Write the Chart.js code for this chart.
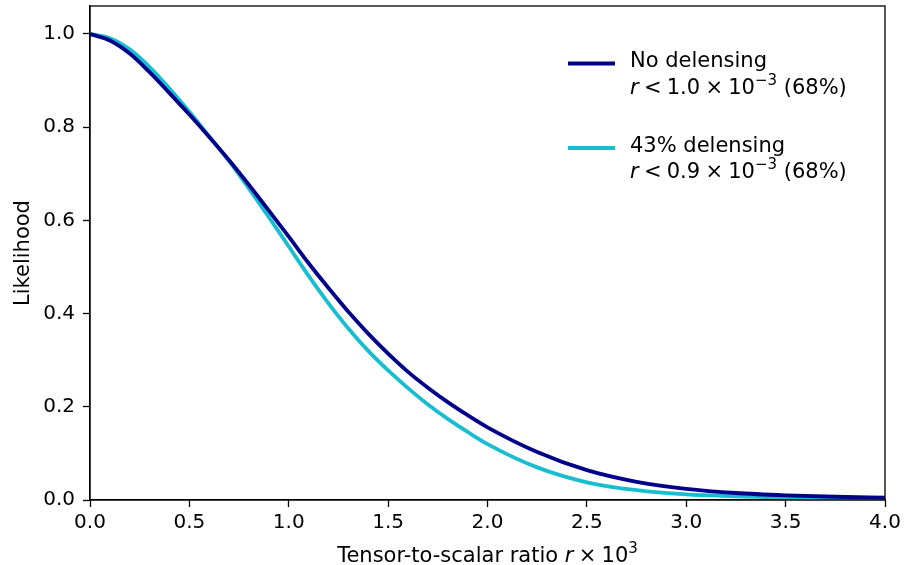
<!DOCTYPE html>
<html>
<head>
<meta charset="utf-8">
<script src="https://cdn.jsdelivr.net/npm/chart.js@4/dist/chart.umd.min.js"></script>
<style>
  html, body { margin: 0; padding: 0; background: #fff; }
  canvas { display: block; }
</style>
</head>
<body>
<canvas id="myChart" width="904" height="565"></canvas>
<script>
// tensor-to-scalar ratio r x 10^3
const rValues = [0, 0.1, 0.2, 0.3, 0.4, 0.5, 0.6, 0.7, 0.8, 0.9, 1.0, 1.1, 1.2, 1.3, 1.4, 1.5, 1.6, 1.7, 1.8, 1.9, 2.0, 2.25, 2.5, 2.75, 3.0, 3.25, 3.5, 3.75, 4.0]
const noDelensing = [1.000, 0.986, 0.958, 0.918, 0.873, 0.827, 0.779, 0.729, 0.676, 0.621, 0.565, 0.508, 0.455, 0.404, 0.357, 0.314, 0.275, 0.241, 0.210, 0.182, 0.156, 0.103, 0.064, 0.039, 0.024, 0.015, 0.010, 0.007, 0.005]
const delensing43 = [1.000, 0.991, 0.967, 0.929, 0.883, 0.833, 0.780, 0.727, 0.668, 0.607, 0.544, 0.481, 0.422, 0.368, 0.320, 0.278, 0.240, 0.205, 0.174, 0.146, 0.120, 0.070, 0.038, 0.021, 0.012, 0.008, 0.005, 0.004, 0.003]
const seriesNames = ['No delensing', '43% delensing']
const limits = ['1.0', '0.9']
const xTicks = [0, 0.5, 1.0, 1.5, 2.0, 2.5, 3.0, 3.5, 4.0]
const yTicks = [0, 0.2, 0.4, 0.6, 0.8, 1.0]

const FONT = "'DejaVu Sans', sans-serif"
const colors = ['#00008b', '#17becf']

function toPoints(ys) {
    return rValues.map((r, i) => ({x: r, y: ys[i]}))
}

// box around the plot + axis titles + legend, matplotlib style
const extras = {
    id: 'extras',
    afterDatasetsDraw(chart) {
        const ctx = chart.ctx
        const a = chart.chartArea
        ctx.save()
        ctx.strokeStyle = '#000'
        ctx.lineWidth = 1.3
        ctx.strokeRect(a.left, a.top, a.right - a.left, a.bottom - a.top)

        ctx.fillStyle = '#000'
        ctx.textBaseline = 'alphabetic'

        // pieces: [text, italic, superscript]
        function drawParts(parts, x, y, align) {
            const widths = parts.map(p => {
                ctx.font = (p[1] ? 'italic ' : '') + (p[2] ? 15 : 21) + 'px ' + FONT
                return ctx.measureText(p[0]).width
            })
            const total = widths.reduce((s, w) => s + w, 0)
            let cx = align === 'center' ? x - total / 2 : x
            ctx.textAlign = 'left'
            parts.forEach((p, i) => {
                ctx.font = (p[1] ? 'italic ' : '') + (p[2] ? 15 : 21) + 'px ' + FONT
                ctx.fillText(p[0], cx, p[2] ? y - 9 : y)
                cx += widths[i]
            })
        }

        // x title
        drawParts([['Tensor-to-scalar ratio ', false, false], ['r', true, false], ['\u2005\u00d7\u200510', false, false], ['3', false, true]],
            (a.left + a.right) / 2, 562, 'center')

        // y title
        ctx.save()
        ctx.translate(29, (a.top + a.bottom) / 2)
        ctx.rotate(-Math.PI / 2)
        ctx.font = '21px ' + FONT
        ctx.textAlign = 'center'
        ctx.fillText('Likelihood', 0, 0)
        ctx.restore()

        // legend
        const rows = [63.5, 148]
        rows.forEach((ly, i) => {
            ctx.strokeStyle = colors[i]
            ctx.lineWidth = 3.8
            ctx.beginPath()
            ctx.moveTo(568, ly)
            ctx.lineTo(615, ly)
            ctx.stroke()
            ctx.font = '21px ' + FONT
            ctx.textAlign = 'left'
            ctx.fillText(seriesNames[i], 630, ly + 3.5)
            drawParts([['r', true, false], ['\u2005<\u2005' + limits[i] + '\u2005\u00d7\u200510', false, false], ['\u22123', false, true], [' (68%)', false, false]],
                630, ly + 30, 'left')
        })
        ctx.restore()
    }
}

const ctx = document.getElementById('myChart')
const chart = new Chart(ctx, {
    type: 'line',
    data: {
        datasets: [
            {label: seriesNames[0], data: toPoints(noDelensing), borderColor: colors[0], backgroundColor: colors[0]},
            {label: seriesNames[1], data: toPoints(delensing43), borderColor: colors[1], backgroundColor: colors[1]}
        ]
    },
    options: {
        responsive: false,
        animation: false,
        devicePixelRatio: 1,
        layout: {padding: {top: 6, right: 19, left: 0, bottom: 0}},
        elements: {
            line: {borderWidth: 3.8, cubicInterpolationMode: 'monotone', fill: false},
            point: {radius: 0}
        },
        plugins: {legend: {display: false}, tooltip: {enabled: false}},
        scales: {
            x: {
                type: 'linear', min: 0, max: 4,
                afterBuildTicks: s => { s.ticks = xTicks.map(v => ({value: v})) },
                afterFit: s => { s.height = 65; s.paddingLeft = 0; s.paddingRight = 0 },
                ticks: {color: '#000', font: {family: FONT, size: 20}, padding: 4, maxRotation: 0,
                    callback: v => v.toFixed(1)},
                grid: {drawOnChartArea: false, tickLength: 7, color: '#000', tickWidth: 1.3},
                border: {color: '#000', width: 1.3}
            },
            y: {
                type: 'linear', min: 0, max: 1.06,
                afterBuildTicks: s => { s.ticks = yTicks.map(v => ({value: v})) },
                afterFit: s => { s.width = 90; s.paddingTop = 0; s.paddingBottom = 0 },
                ticks: {color: '#000', font: {family: FONT, size: 20}, padding: 8,
                    callback: v => v.toFixed(1)},
                grid: {drawOnChartArea: false, tickLength: 7, color: '#000', tickWidth: 1.3},
                border: {color: '#000', width: 1.3}
            }
        }
    },
    plugins: [extras]
})
</script>
</body>
</html>
